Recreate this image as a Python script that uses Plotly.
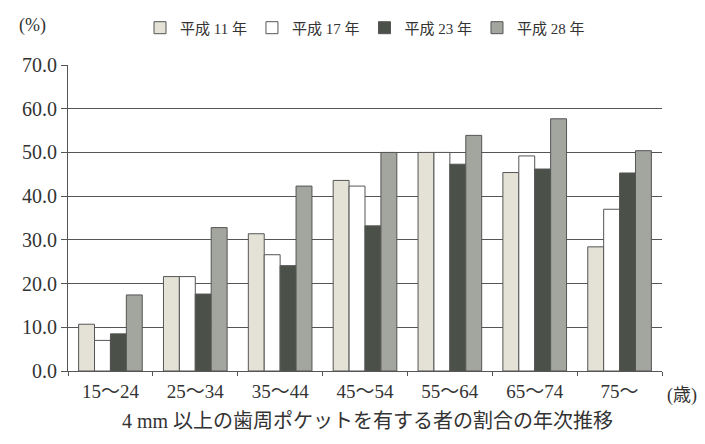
import plotly.graph_objects as go

categories = ["15～24", "25～34", "35～44", "45～54", "55～64", "65～74", "75～"]
series_names = ["平成 11 年", "平成 17 年", "平成 23 年", "平成 28 年"]
h11 = [10.7, 21.6, 31.4, 43.6, 50.0, 45.4, 28.4]
h17 = [7.0, 21.6, 26.6, 42.3, 50.0, 49.2, 37.0]
h23 = [8.5, 17.6, 24.1, 33.2, 47.3, 46.2, 45.3]
h28 = [17.4, 32.8, 42.3, 50.0, 53.9, 57.7, 50.4]
y_ticks = [0, 10, 20, 30, 40, 50, 60, 70]

colors = ["#e4e2d6", "#ffffff", "#4b5149", "#a3a59f"]
font_fam = "Liberation Serif, DejaVu Serif, Noto Sans CJK JP"

fig = go.Figure()
for name, vals, col in zip(series_names, [h11, h17, h23, h28], colors):
    fig.add_trace(go.Bar(
        x=categories, y=vals, name=name,
        marker=dict(color=col, line=dict(color="#555555", width=1)),
    ))

fig.update_layout(
    width=705, height=444,
    margin=dict(l=68, r=43, t=61, b=73),
    paper_bgcolor="white", plot_bgcolor="white",
    barmode="group", bargap=0.25, bargroupgap=0,
    font=dict(family=font_fam, color="#333333", size=14),
    showlegend=True,
    legend=dict(
        orientation="h", x=0.5, xanchor="center", y=1.175, yanchor="top",
        font=dict(size=15, family=font_fam), itemwidth=30,
        traceorder="normal", bgcolor="rgba(0,0,0,0)",
    ),
    xaxis=dict(
        type="category", showline=True, linecolor="#555555", linewidth=1,
        ticks="outside", tickson="boundaries", ticklen=4, tickcolor="#555555",
        tickfont=dict(size=19, family=font_fam, color="#333333"),
        ticklabelstandoff=3,
        showgrid=False,
    ),
    yaxis=dict(
        range=[0, 70], tickvals=y_ticks, tickformat=".1f",
        showline=True, linecolor="#555555", linewidth=1,
        ticks="outside", ticklen=6, tickcolor="#555555",
        showgrid=True, gridcolor="#555555", gridwidth=1,
        zeroline=False,
        tickfont=dict(size=20, family=font_fam, color="#333333"),
    ),
    annotations=[
        dict(text="(%)", xref="paper", yref="paper", x=-0.06, y=1.13,
             xanchor="center", yanchor="middle", showarrow=False,
             font=dict(size=18, family=font_fam, color="#333333")),
        dict(text="(歳)", xref="paper", yref="paper", x=1.005, y=-0.08,
             xanchor="left", yanchor="middle", showarrow=False,
             font=dict(size=18, family=font_fam, color="#333333")),
        dict(text="4 mm 以上の歯周ポケットを有する者の割合の年次推移", xref="paper", yref="paper",
             x=0.505, y=-0.165, xanchor="center", yanchor="middle", showarrow=False,
             font=dict(size=20, family=font_fam, color="#333333")),
    ],
)

fig.write_html("out.html")
